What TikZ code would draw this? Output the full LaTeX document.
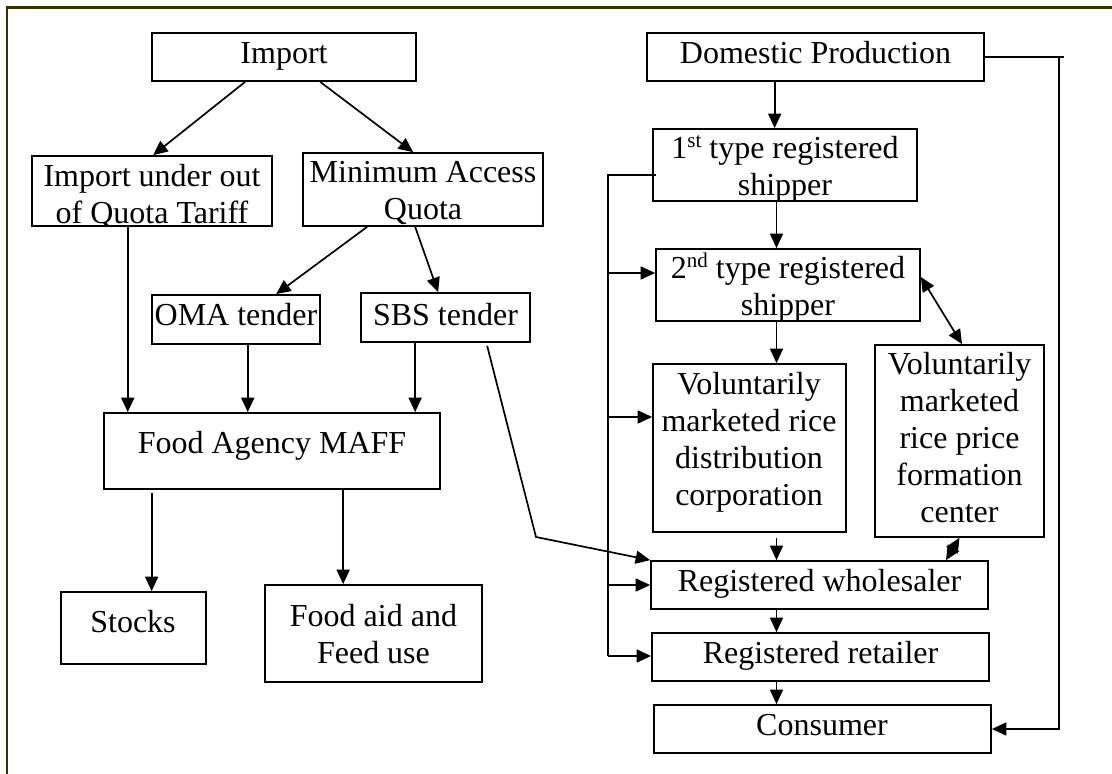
\documentclass[tikz,border=0pt]{standalone}
\usepackage{fontspec}
\setmainfont{Liberation Serif}
\usetikzlibrary{arrows.meta}
\definecolor{frameline}{RGB}{51,51,0}
% ordinal suffix, raised and smaller
\newcommand\ordsup[1]{\raisebox{11pt}{\fontsize{21}{21}\selectfont #1}}
% \panel{name}{x1}{y1}{x2}{y2}: an empty framed box between two corners
\newcommand\panel[5]{%
  \node[box, minimum width={(#4)-(#2)}, minimum height={(#5)-(#3)}]
    (#1) at ({((#2)+(#4))/2},{((#3)+(#5))/2}) {};}
\begin{document}
\begin{tikzpicture}[x=1pt,y=-1pt,
  box/.style={draw=black, line width=1.7pt, inner sep=0pt},
  % labels are placed by the baseline of their last line
  lbl/.style={inner sep=0pt, align=center, anchor=base,
              font=\fontsize{32}{37}\selectfont},
  wire/.style={line width=1.7pt},
  flow/.style={wire, -{Triangle[length=14.5pt,width=13pt]}},
  both/.style={wire, {Triangle[length=14.5pt,width=13pt]}-{Triangle[length=14.5pt,width=13pt]}},
]
\useasboundingbox (0,0) rectangle (1112,774);
\draw[frameline, line width=2.4pt] (6.7,774) -- (6.7,7.5) -- (1112,7.5);

% ---- import side: boxes
\panel{imp}{152}{33}{416}{81}
\panel{iu}{32}{156}{272}{226}
\panel{maq}{303}{153}{543}{226}
\panel{oma}{152}{295}{320}{344}
\panel{sbs}{361}{293}{530}{342}
\panel{fa}{104}{413}{440}{489}
\panel{stk}{61}{592}{206}{664}
\panel{aid}{265}{585}{482}{682}

% ---- domestic side: boxes
\panel{dom}{647}{33}{984}{81}
\panel{sh1}{653}{129}{917}{201}
\panel{sh2}{656}{249}{920}{321}
\panel{vdc}{653}{364}{846}{532}
\panel{vpc}{875}{345}{1044}{537}
\panel{whs}{651}{561}{988}{609}
\panel{ret}{652}{633}{989}{681}
\panel{con}{654}{705}{991}{753}

% ---- labels
\node[lbl] (impT) at (284,63.5) {Import};
\begin{scope}
  \clip (iu.north west) rectangle (iu.south east);
  \node[lbl] (iuT) at (152,223.5) {Import under out\\of Quota Tariff};
\end{scope}
\node[lbl] (maqT) at (423,219.5) {Minimum Access\\Quota};
\node[lbl] (omaT) at (236,325) {OMA tender};
\node[lbl] (sbsT) at (445.5,325) {SBS tender};
\node[lbl] (faT) at (272,453) {Food Agency MAFF};
\node[lbl] (stkT) at (133,632) {Stocks};
\node[lbl] (aidT) at (373.5,663) {Food aid and\\Feed use};

\node[lbl] (domT) at (815.5,63.5) {Domestic Production};
\node[lbl] (sh1T) at (785,195) {1\ordsup{st} type registered\\shipper};
\node[lbl] (sh2T) at (788,315) {2\ordsup{nd} type registered\\shipper};
\node[lbl] (vdcT) at (749,505) {Voluntarily\\marketed rice\\distribution\\corporation};
\node[lbl] (vpcT) at (959.5,522) {Voluntarily\\marketed\\rice price\\formation\\center};
\node[lbl] (whsT) at (819.5,591) {Registered wholesaler};
\node[lbl] (retT) at (820.5,663) {Registered retailer};
\node[lbl] (conT) at (822,735) {Consumer};

% ---- import flows
\draw[flow] ([xshift=94pt]imp.south west) -- ([xshift=122pt]iu.north west);
\draw[flow] ([xshift=169pt]imp.south west) -- ([xshift=111pt]maq.north west);
\draw[flow] ([xshift=65pt]maq.south west) -- ([xshift=125pt]oma.north west);
\draw[flow] ([xshift=113pt]maq.south west) -- ([xshift=78pt]sbs.north west);
\draw[flow] ([xshift=96.6pt]iu.south west) coordinate (iuOut) -- (iuOut |- fa.north);
\draw[flow] ([xshift=96.6pt]oma.south west) coordinate (omaOut) -- (omaOut |- fa.north);
\draw[flow] ([xshift=55pt]sbs.south west) coordinate (sbsOut) -- (sbsOut |- fa.north);
\draw[flow] ([shift={(48.5pt,-3pt)}]fa.south west) coordinate (faL) -- (faL |- stk.north);
\draw[flow] ([xshift=240pt]fa.south west) coordinate (faR) -- (faR |- aid.north);
\coordinate (sbsBend) at (536,537);
\draw[flow] ([shift={(127pt,-3pt)}]sbs.south west) -- (sbsBend) -- (whs.north west);

% ---- domestic flows down the chain
\draw[flow] ([xshift=128.5pt]dom.south west) coordinate (domOut) -- (domOut |- sh1.north);
\coordinate (chainX) at (776.5,0);
\draw[flow] (chainX |- sh1.south) -- (chainX |- sh2.north);
\draw[flow] (chainX |- sh2.south) -- (chainX |- vdc.north);
\draw[flow] ([yshift=-5pt]chainX |- vdc.south) -- (chainX |- whs.north);
\draw[flow] (chainX |- whs.south) -- (chainX |- ret.north);
\draw[flow] (chainX |- ret.south) -- (chainX |- con.north);

% ---- price formation center links
\draw[both] ([yshift=8pt]sh2.east) -- ([xshift=2.5pt]vpc.north);
\draw[both] (vpc.south) -- ([xshift=126.5pt]whs.north);

% ---- direct route from production to consumer
\coordinate (rtTop) at (1059,57);
\coordinate (rtEnd) at (1064,57);
\draw[wire] (dom.east) -- (rtEnd);
\draw[flow] (rtTop) |- (con.east);

% ---- bypass bus from the 1st type shipper
\coordinate (busTop) at (608,175);
\coordinate (busBot) at (608,656);
\draw[wire] ([shift={(4pt,-10pt)}]sh1.west) -- (busTop) -- (busBot);
\coordinate (b1) at (608,273);
\coordinate (b2) at (608,417);
\coordinate (b3) at (608,585);
\coordinate (b4) at (608,656);
\draw[flow] (b1) -- (b1 -| sh2.west);
\draw[flow] (b2) -- (b2 -| vdc.west);
\draw[flow] (b3) -- (b3 -| whs.west);
\draw[flow] (b4) -- (b4 -| ret.west);
\end{tikzpicture}
\end{document}
